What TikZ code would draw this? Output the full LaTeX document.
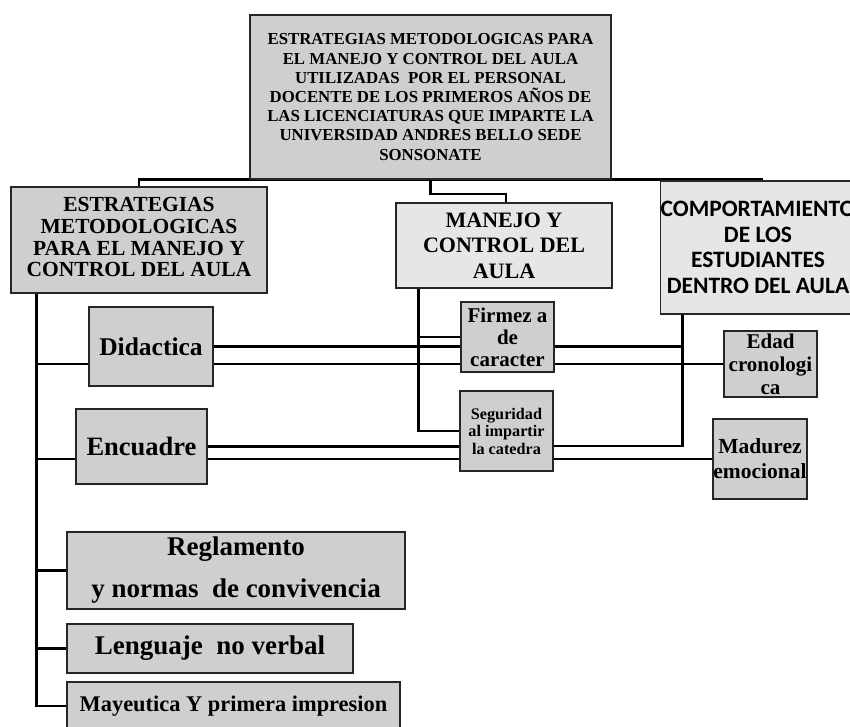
\documentclass[tikz,border=0pt]{standalone}
\usepackage{fontspec}
\setmainfont{Liberation Serif}
\newfontfamily\calib{Carlito}
\usetikzlibrary{calc}
\definecolor{boxgray}{RGB}{208,206,206}
\definecolor{lightbox}{RGB}{231,230,230}
\definecolor{edge}{RGB}{38,38,38}
\tikzset{
  box/.style={draw=edge, line width=1.6pt, fill=boxgray, inner sep=0pt, align=center, text=black},
  lbox/.style={box, fill=lightbox},
  conn/.style={line width=2.6pt, black, line cap=rect},
  fs/.style n args={2}{font={\fontsize{#1}{#2}\selectfont\bfseries}}
}
\begin{document}
\begin{tikzpicture}[x=1pt,y=-1pt]
\useasboundingbox (0,0) rectangle (850,726);
\clip (0,0) rectangle (850,726);
% box outlines placed first, for anchors
\node[box, minimum width=361pt, minimum height=164pt] (top) at (430.5,97) {};
\node[box, minimum width=256pt, minimum height=106pt] (strat) at (139,240) {};
\node[lbox, minimum width=216pt, minimum height=85pt] (manejo) at (504,245.5) {};
\node[lbox, minimum width=188pt, minimum height=133pt] (comp) at (758,247.5) {};
\node[box, minimum width=124pt, minimum height=79pt] (didac) at (151,346.5) {};
\node[box, minimum width=131pt, minimum height=75pt] (encu) at (141.5,446.5) {};
\node[box, minimum width=93pt, minimum height=70pt] (firm) at (507.5,337) {};
\node[box, minimum width=93pt, minimum height=80pt] (segu) at (506.5,431) {};
\node[box, minimum width=93pt, minimum height=66pt] (edad) at (770.5,364) {};
\node[box, minimum width=94pt, minimum height=80pt] (madu) at (760,459) {};
\node[box, minimum width=338pt, minimum height=77pt] (regl) at (236,570.5) {};
\node[box, minimum width=286pt, minimum height=49pt] (leng) at (210,648.5) {};
\node[box, minimum width=333pt, minimum height=48pt] (maye) at (233.5,706) {};

% top-level connectors
\draw[conn] (strat.north) -- ++(0,-7) -| ($(comp.north)+(4,0)$);
\draw[conn] (top.south) -- ++(0,14) -| ($(manejo.north)+(2,0)$);
% left bus
\coordinate (lb) at ($(strat.south west)+(26,0)$);
\draw[conn] (lb) |- (maye.west);
\draw[conn] (lb) |- ($(didac.west)+(0,17.5)$);
\draw[conn] (lb) |- ($(encu.west)+(0,12.5)$);
\draw[conn] (lb) |- (regl.west);
\draw[conn] (lb) |- (leng.west);
% manejo bus
\coordinate (mb) at ($(manejo.south west)+(23,0)$);
\draw[conn] (mb) |- (segu.west);
\draw[conn] (mb) |- (firm.west);
% comportamiento bus
\coordinate (cb) at ($(comp.south west)+(19,0)$);
\draw[conn] (cb) |- ($(segu.east)+(0,15)$);
% didactica lines
\draw[conn] (didac.east) -- ($(firm.west)+(0,9.5)$);
\draw[conn] ($(didac.east)+(0,17.5)$) -- ($(firm.west)+(0,27)$);
\coordinate (f1) at ($(firm.east)+(0,9.5)$);
\draw[conn] (f1) -- (cb |- f1);
\draw[conn] ($(firm.east)+(0,27)$) -- (edad.west);
% encuadre lines
\draw[conn] (encu.east) -- ($(segu.west)+(0,15.5)$);
\draw[conn] ($(encu.east)+(0,12.5)$) -- ($(segu.west)+(0,28)$);
\draw[conn] ($(segu.east)+(0,28)$) -- (madu.west);

% boxes redrawn with text on top
\node[box, minimum width=361pt, minimum height=164pt, fs={16.8}{19.2}] at (top) {ESTRATEGIAS METODOLOGICAS PARA\\EL MANEJO Y CONTROL DEL AULA\\UTILIZADAS\ \ POR EL PERSONAL\\DOCENTE DE LOS PRIMEROS AÑOS DE\\LAS LICENCIATURAS QUE IMPARTE LA\\UNIVERSIDAD ANDRES BELLO SEDE\\SONSONATE};
\node[box, minimum width=256pt, minimum height=106pt, fs={21.5}{21.7}] at (strat) {\raisebox{3pt}{\begin{tabular}{@{}c@{}}ESTRATEGIAS\\METODOLOGICAS\\PARA EL MANEJO Y\\CONTROL DEL AULA\end{tabular}}};
\node[lbox, minimum width=216pt, minimum height=85pt, fs={22}{25.5}] at (manejo) {MANEJO Y\\CONTROL DEL\\AULA};
\node[lbox, minimum width=188pt, minimum height=133pt, font={\calib\bfseries\fontsize{23.5}{25.7}\selectfont}] at (comp) {COMPORTAMIENTO\\DE LOS\\ESTUDIANTES\\DENTRO DEL AULA};
\node[box, minimum width=124pt, minimum height=79pt, fs={25.5}{28}] at (didac) {Didactica};
\node[box, minimum width=131pt, minimum height=75pt, fs={26.5}{28}] at (encu) {Encuadre};
\node[box, minimum width=93pt, minimum height=70pt, fs={21}{22}] at (firm) {Firmez a\\de\\caracter};
\node[box, minimum width=93pt, minimum height=80pt, fs={16.2}{17.5}] at (segu) {Seguridad\\al impartir\\la catedra};
\node[box, minimum width=93pt, minimum height=66pt, fs={21}{23}] at (edad) {Edad\\cronologi\\ca};
\node[box, minimum width=94pt, minimum height=80pt, fs={21.5}{25}] at (madu) {Madurez\\emocional};
\node[box, minimum width=338pt, minimum height=77pt, fs={27}{42}] at (regl) {Reglamento\\y normas\ \ de convivencia};
\node[box, minimum width=286pt, minimum height=49pt, fs={27}{30}] at (leng) {Lenguaje\ \ no verbal};
\node[box, minimum width=333pt, minimum height=48pt, fs={22.4}{25}] at (maye) {Mayeutica Y primera impresion};
\end{tikzpicture}
\end{document}
